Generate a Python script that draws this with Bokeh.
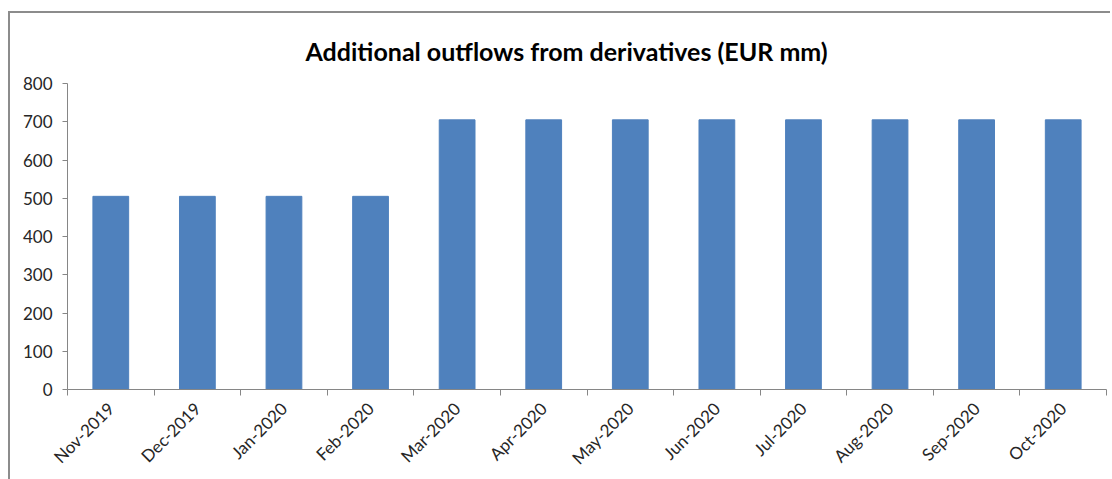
import math
from bokeh.plotting import figure
from bokeh.models import Range1d, FixedTicker, LinearAxis
from bokeh.embed import file_html
from bokeh.resources import INLINE

months = ["Nov-2019", "Dec-2019", "Jan-2020", "Feb-2020", "Mar-2020", "Apr-2020",
          "May-2020", "Jun-2020", "Jul-2020", "Aug-2020", "Sep-2020", "Oct-2020"]
outflows = [505, 505, 505, 505, 705, 705, 705, 705, 705, 705, 705, 705]
y_ticks = [0, 100, 200, 300, 400, 500, 600, 700, 800]
title_text = "Additional outflows from derivatives (EUR mm)"

FONT = "Lato"
GRAY = "#868686"
TXT = "#262626"

n = len(months)
centers = [i + 0.5 for i in range(n)]
boundaries = [float(i) for i in range(n + 1)]

p = figure(width=1102, height=468, output_backend="svg", toolbar_location=None,
           x_range=Range1d(0, n), y_range=Range1d(0, 800),
           x_axis_type=None, y_axis_type=None,
           min_border_left=57, min_border_right=6, min_border_top=70, min_border_bottom=92,
           title=title_text)
p.margin = (11, 0, 0, 8)
p.styles = {"border-left": "2px solid #8c8c8c", "border-top": "2px solid #8c8c8c"}

p.title.text_font = FONT
p.title.text_font_style = "bold"
p.title.text_font_size = "25px"
p.title.text_color = "#000000"
p.title.align = "left"
p.title.offset = 238
p.title.standoff = 35

p.outline_line_color = None
p.grid.visible = False

p.vbar(x=centers, top=outflows, width=0.413, color="#4F81BD", line_color="#4F81BD")

yax = LinearAxis(ticker=FixedTicker(ticks=y_ticks))
yax.axis_line_color = GRAY
yax.major_tick_line_color = GRAY
yax.major_tick_out = 5
yax.major_tick_in = 0
yax.minor_tick_line_color = None
yax.major_label_text_font = FONT
yax.major_label_text_font_size = "17px"
yax.major_label_text_color = TXT
yax.major_label_standoff = 10
p.add_layout(yax, "left")

xax = LinearAxis(ticker=FixedTicker(ticks=centers, minor_ticks=boundaries))
xax.major_label_overrides = {c: m for c, m in zip(centers, months)}
xax.axis_line_color = GRAY
xax.major_tick_line_color = None
xax.minor_tick_line_color = GRAY
xax.minor_tick_out = 6
xax.minor_tick_in = 0
xax.major_label_orientation = math.pi / 4
xax.major_label_text_font = FONT
xax.major_label_text_font_size = "17px"
xax.major_label_text_color = TXT
xax.major_label_standoff = 10
p.add_layout(xax, "below")

open("out.html", "w").write(file_html(p, INLINE))
